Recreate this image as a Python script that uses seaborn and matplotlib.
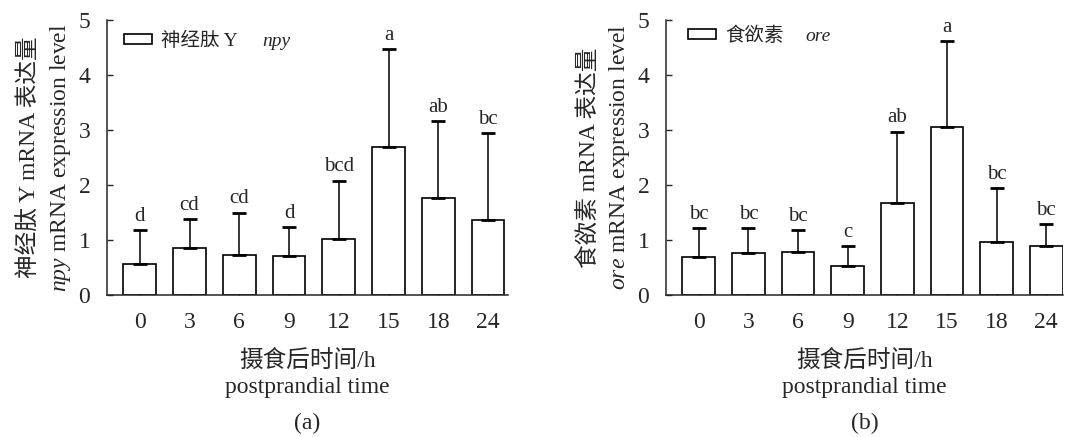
"""
Expressão de npy e ore após a alimentação (dois painéis de barras com erro).
"""
import numpy as np
import pandas as pd
import matplotlib
matplotlib.use('Agg')
import matplotlib.pyplot as plt
import seaborn as sns
from matplotlib.patches import Patch

sns.set_style('ticks')
plt.rcParams['font.family'] = ['Liberation Serif', 'Noto Sans CJK SC']
plt.rcParams['mathtext.fontset'] = 'custom'
plt.rcParams['mathtext.rm'] = 'Liberation Serif'
plt.rcParams['mathtext.it'] = 'Liberation Serif:italic'
plt.rcParams['axes.unicode_minus'] = False

# --- dados ---
tempos = ['0', '3', '6', '9', '12', '15', '18', '24']

npy_media = [0.57, 0.85, 0.73, 0.71, 1.02, 2.69, 1.77, 1.37]
npy_topo = [1.18, 1.38, 1.50, 1.24, 2.08, 4.47, 3.16, 2.95]
npy_letras = ['d', 'cd', 'cd', 'd', 'bcd', 'a', 'ab', 'bc']

ore_media = [0.69, 0.76, 0.79, 0.52, 1.67, 3.05, 0.97, 0.89]
ore_topo = [1.21, 1.22, 1.18, 0.89, 2.97, 4.61, 1.94, 1.29]
ore_letras = ['bc', 'bc', 'bc', 'c', 'ab', 'a', 'bc', 'bc']

# (nome, gene, médias, topo do erro, letras, posição do eixo, xlim direito,
#  âncora da legenda, espaço antes do gene em pt, rótulo do painel)
paineis = [
    ('神经肽 Y', 'npy', npy_media, npy_topo, npy_letras,
     [0.0997, 0.3249, 0.3737, 0.6293], 7.40, (0.022, 0.985), 17, '(a)'),
    ('食欲素', 'ore', ore_media, ore_topo, ore_letras,
     [0.6207, 0.3249, 0.3700, 0.6293], 7.34, (0.035, 1.005), 15, '(b)'),
]

fig = plt.figure(figsize=(10.73, 4.37), dpi=100)

for (nome_cn, gene, media, topo, letras, pos, xmax, ancora, gap,
     legenda) in paineis:
    ax = fig.add_axes(pos)
    df = pd.DataFrame({'tempo': tempos, 'media': media, 'topo': topo})
    sns.barplot(data=df, x='tempo', y='media', order=tempos, color='white',
                edgecolor='black', linewidth=1.2, width=0.66, ax=ax)

    xs = np.arange(len(tempos))
    err = df['topo'] - df['media']
    ax.errorbar(xs, df['media'], yerr=[np.zeros(len(xs)), err], fmt='none',
                ecolor='black', elinewidth=1.1, capsize=4.7, capthick=2,
                zorder=1)
    for xi, yi, let in zip(xs, topo, letras):
        ax.annotate(let, (xi, yi), xytext=(0, 3), textcoords='offset points',
                    ha='center', va='bottom', fontsize=15)

    ax.set_xlim(-0.66, xmax)
    ax.set_ylim(0, 5)
    ax.set_yticks(range(6))
    ax.tick_params(axis='y', direction='in', length=4, width=1,
                   labelsize=17, pad=12)
    ax.tick_params(axis='x', direction='in', length=3, width=1,
                   labelsize=17, pad=12)
    ax.spines[['right', 'top']].set_visible(False)
    for s in ('left', 'bottom'):
        ax.spines[s].set_linewidth(1.1)

    ax.set_xlabel('摄食后时间/h\npostprandial time', fontsize=17,
                  labelpad=12, linespacing=1.32)
    ax.set_ylabel(f'{nome_cn} mRNA 表达量\n$\\mathit{{{gene}}}$ mRNA expression level',
                  fontsize=17, labelpad=4, linespacing=1.38)

    handle = Patch(facecolor='white', edgecolor='black', linewidth=1.2)
    leg = ax.legend([handle], [nome_cn], loc='upper left', frameon=False,
                    fontsize=14, handlelength=1.45, handleheight=0.4,
                    handletextpad=0.5, borderaxespad=0.0,
                    bbox_to_anchor=ancora)
    # nome do gene em itálico logo depois do texto da legenda
    ax.annotate(gene, xy=(1, 0), xycoords=leg.get_texts()[0],
                xytext=(gap, 0), textcoords='offset points', ha='left',
                va='bottom', fontsize=14, style='italic', zorder=6)

    fig.text(pos[0] + pos[2] / 2, 1 - 423 / 437, legenda, ha='center',
             va='center', fontsize=17)

plt.savefig('out.png', dpi=100)
plt.close()
